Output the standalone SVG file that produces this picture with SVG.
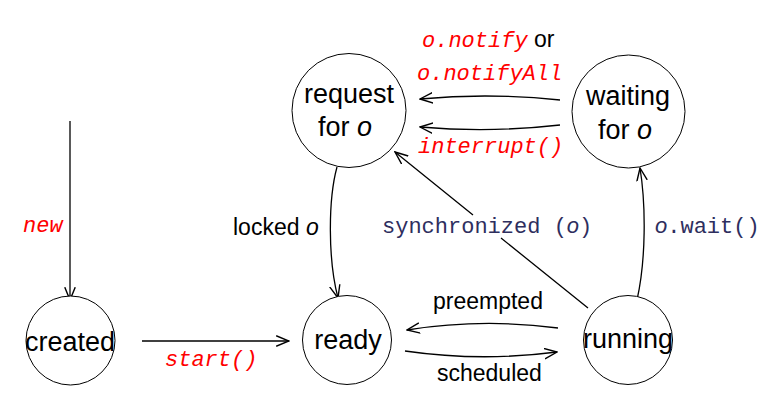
<svg xmlns="http://www.w3.org/2000/svg" width="770" height="407" viewBox="0 0 770 407">
<defs>
<marker id="arr" markerUnits="userSpaceOnUse" markerWidth="14" markerHeight="12" refX="11" refY="5" orient="auto" viewBox="0 0 12 10">
<path d="M0,0.5 L11,5 L0,9.5" fill="none" stroke="#000" stroke-width="1.2"/>
</marker>
</defs>
<style>
.node circle{fill:#fff;stroke:#000;stroke-width:1}
.nl{font-family:"Liberation Sans",Arial,sans-serif;font-size:27px;fill:#000;text-anchor:middle}
.it{font-style:italic}
.edge{fill:none;stroke:#000;stroke-width:1.3;marker-end:url(#arr)}
.red{font-family:"Liberation Mono","DejaVu Sans Mono",monospace;font-style:italic;font-size:22px;fill:#ff0000}
.blk{font-family:"Liberation Sans",Arial,sans-serif;font-size:23px;fill:#000}
.navy{font-family:"Liberation Mono","DejaVu Sans Mono",monospace;font-size:22px;fill:#2e2e5e}
</style>
<rect width="770" height="407" fill="#fff"/>
<g id="connectors">
<path class="edge" d="M70,121 L70,300"/>
<path class="edge" d="M142,341 L289,341"/>
<path class="edge" d="M337,167 C328,200 328,260 338,298"/>
<path class="edge" d="M637,300 C646,260 646,205 640,168"/>
<path class="edge" d="M588,308 L501,238 M473,215 L395,152"/>
<path class="edge" d="M560,100 Q490,92.5 420,99"/>
<path class="edge" d="M560,125 Q490,133 420,127"/>
<path class="edge" d="M558,328 Q482,318 407,330"/>
<path class="edge" d="M405,351 Q481,362 557,352"/>
</g>
<g id="labels">
<text class="red" x="422" y="47">o.notify<tspan class="blk" style="font-style:normal" font-size="22"> or</tspan></text>
<text class="red" x="417" y="80">o.notifyAll</text>
<text class="red" x="418" y="153">interrupt()</text>
<text class="red" x="23" y="232">new</text>
<text class="red" x="165" y="366">start()</text>
<text class="blk" x="233" y="235" font-size="24">locked <tspan class="it">o</tspan></text>
<text class="navy" x="382" y="233">synchronized (<tspan font-family="Liberation Sans,Arial,sans-serif" font-style="italic">o</tspan>)</text>
<text class="navy" x="655" y="233"><tspan font-family="Liberation Sans,Arial,sans-serif" font-style="italic">o</tspan>.wait()</text>
<text class="blk" x="433" y="309">preempted</text>
<text class="blk" x="437" y="381">scheduled</text>
</g>
<g id="created" class="node">
<circle cx="70.5" cy="340.5" r="44.5"/>
<text class="nl" x="70" y="351">created</text>
</g>
<g id="ready" class="node">
<circle cx="347" cy="340" r="44.5"/>
<text class="nl" x="348" y="349">ready</text>
</g>
<g id="running" class="node">
<circle cx="628" cy="340" r="44.5"/>
<text class="nl" x="628" y="348">running</text>
</g>
<g id="request" class="node">
<circle cx="349" cy="110.5" r="57"/>
<text class="nl" x="349" y="103">request</text>
<text class="nl" x="345" y="136">for <tspan class="it">o</tspan></text>
</g>
<g id="waiting" class="node">
<circle cx="628.5" cy="111.5" r="56.5"/>
<text class="nl" x="628" y="105">waiting</text>
<text class="nl" x="625" y="139">for <tspan class="it">o</tspan></text>
</g>
</svg>
